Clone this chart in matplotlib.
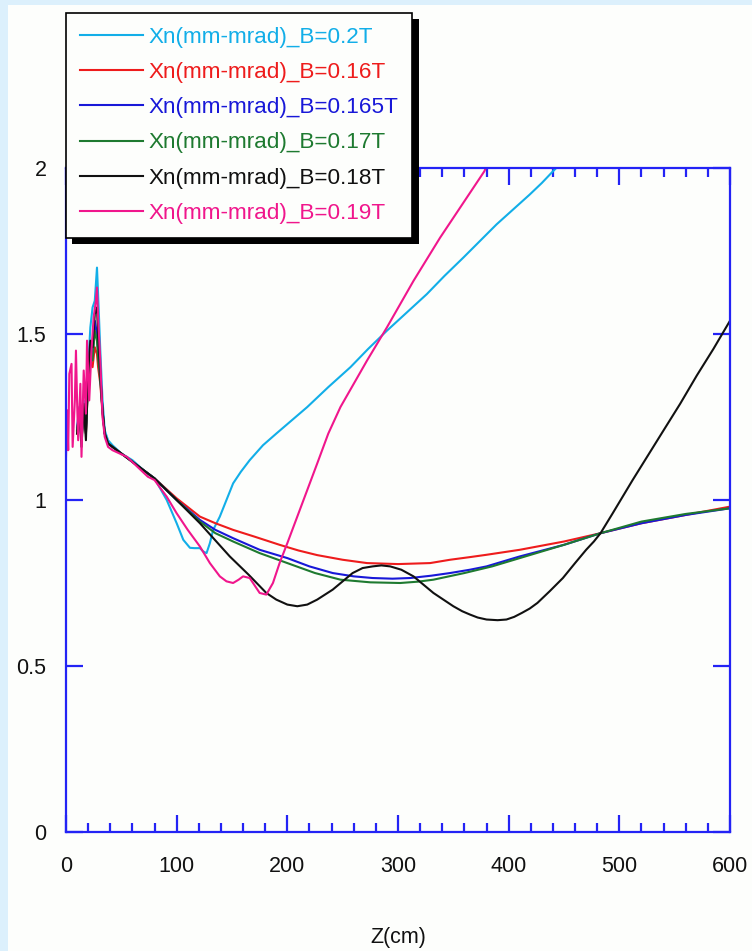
import numpy as np
import matplotlib
matplotlib.use('Agg')
import matplotlib.pyplot as plt
import matplotlib.patheffects as pe
from matplotlib.patches import Rectangle

plt.rcParams['font.family'] = ['Liberation Sans', 'DejaVu Sans']

# emittance Xn (mm-mrad) along Z (cm) for each solenoid field
z_02 = [10, 12, 14, 16, 18, 20, 22, 24, 26, 28, 29, 31, 33, 35, 38, 42, 50, 60, 70, 80,
        91, 100, 106, 112, 116, 121, 124, 127, 130, 133, 136, 139, 145, 151, 158, 166,
        178, 190, 204, 218, 237, 257, 273, 290, 308, 326, 342, 359, 374, 389, 404, 419,
        430, 440, 446]
xn_02 = [1.22, 1.28, 1.19, 1.30, 1.22, 1.40, 1.52, 1.58, 1.60, 1.70, 1.62, 1.45, 1.30,
         1.21, 1.18, 1.165, 1.14, 1.12, 1.09, 1.065, 1.00, 0.93, 0.88, 0.856, 0.855, 0.855,
         0.845, 0.84, 0.87, 0.91, 0.93, 0.95, 1.00, 1.05, 1.085, 1.12, 1.165, 1.20, 1.24,
         1.28, 1.34, 1.40, 1.455, 1.51, 1.565, 1.62, 1.675, 1.73, 1.78, 1.83, 1.875, 1.92,
         1.955, 1.99, 2.01]

z_016 = [10, 12, 14, 16, 18, 20, 22, 24, 26, 28, 29, 31, 33, 35, 38, 42, 50, 60, 70, 80,
         100, 121, 135, 151, 170, 193, 210, 227, 250, 272, 300, 329, 347, 365, 380, 410,
         450, 483, 520, 560, 600]
xn_016 = [1.20, 1.26, 1.18, 1.27, 1.20, 1.36, 1.42, 1.40, 1.46, 1.44, 1.40, 1.35, 1.26,
          1.20, 1.17, 1.16, 1.14, 1.115, 1.09, 1.065, 1.005, 0.95, 0.93, 0.91, 0.89, 0.865,
          0.848, 0.834, 0.82, 0.81, 0.807, 0.81, 0.82, 0.828, 0.835, 0.85, 0.875, 0.90,
          0.93, 0.955, 0.98]

z_0165 = [10, 12, 14, 16, 18, 20, 22, 24, 26, 28, 29, 31, 33, 35, 38, 42, 50, 60, 70, 80,
          100, 121, 135, 151, 175, 200, 220, 241, 260, 277, 295, 311, 330, 347, 365, 380,
          410, 450, 483, 520, 560, 600]
xn_0165 = [1.21, 1.27, 1.18, 1.28, 1.21, 1.38, 1.46, 1.44, 1.54, 1.50, 1.45, 1.37, 1.27,
           1.20, 1.17, 1.16, 1.14, 1.115, 1.09, 1.065, 1.00, 0.94, 0.91, 0.885, 0.85, 0.825,
           0.80, 0.78, 0.77, 0.765, 0.763, 0.765, 0.772, 0.78, 0.79, 0.80, 0.83, 0.865,
           0.90, 0.93, 0.955, 0.975]

z_017 = [10, 12, 14, 16, 18, 20, 22, 24, 26, 28, 29, 31, 33, 35, 38, 42, 50, 60, 70, 80,
         100, 121, 135, 151, 175, 200, 225, 248, 275, 302, 318, 332, 360, 385, 410, 450,
         483, 520, 560, 600]
xn_017 = [1.21, 1.26, 1.19, 1.27, 1.20, 1.37, 1.44, 1.42, 1.51, 1.48, 1.43, 1.36, 1.27,
          1.20, 1.17, 1.16, 1.14, 1.115, 1.09, 1.065, 1.00, 0.935, 0.90, 0.875, 0.84, 0.81,
          0.78, 0.76, 0.752, 0.75, 0.754, 0.76, 0.78, 0.80, 0.825, 0.865, 0.90, 0.935,
          0.958, 0.975]

z_018 = [10, 12, 14, 16, 18, 20, 22, 24, 26, 28, 29, 31, 33, 35, 38, 42, 50, 60, 70, 80,
         100, 121, 148, 165, 181, 190, 200, 209, 218, 227, 234, 241, 250, 259, 268, 277,
         285, 293, 303, 314, 323, 332, 341, 350, 358, 365, 372, 380, 390, 398, 405, 412,
         419, 426, 437, 449, 460, 470, 477, 483, 494, 512, 526, 540, 555, 570, 585, 600]
xn_018 = [1.20, 1.27, 1.16, 1.29, 1.18, 1.38, 1.48, 1.46, 1.56, 1.58, 1.50, 1.38, 1.27,
          1.20, 1.17, 1.16, 1.14, 1.115, 1.09, 1.065, 1.00, 0.93, 0.83, 0.775, 0.72, 0.70,
          0.685, 0.68, 0.685, 0.70, 0.715, 0.73, 0.755, 0.78, 0.795, 0.80, 0.803, 0.80,
          0.79, 0.77, 0.745, 0.72, 0.70, 0.68, 0.665, 0.655, 0.646, 0.64, 0.638, 0.64,
          0.648, 0.66, 0.673, 0.69, 0.725, 0.765, 0.81, 0.85, 0.875, 0.90, 0.96, 1.06,
          1.135, 1.21, 1.29, 1.375, 1.455, 1.54]

z_019 = [0, 1, 2, 3, 5, 6, 8, 9, 10, 11, 13, 14, 16, 18, 19, 21, 23, 25, 27, 28, 29, 31,
         33, 35, 38, 42, 55, 74, 80, 91, 100, 110, 121, 130, 139, 145, 151, 156, 160, 166,
         170, 175, 181, 187, 193, 200, 209, 218, 227, 237, 248, 260, 272, 281, 290, 302,
         314, 326, 338, 350, 362, 370, 378, 382]
xn_019 = [1.13, 1.27, 1.15, 1.38, 1.41, 1.16, 1.30, 1.45, 1.30, 1.18, 1.35, 1.13, 1.39,
          1.26, 1.48, 1.30, 1.45, 1.55, 1.60, 1.64, 1.55, 1.42, 1.25, 1.19, 1.16, 1.15,
          1.13, 1.07, 1.06, 1.01, 0.96, 0.91, 0.86, 0.81, 0.77, 0.755, 0.75, 0.76, 0.77,
          0.765, 0.745, 0.72, 0.715, 0.75, 0.81, 0.87, 0.95, 1.03, 1.11, 1.20, 1.28, 1.35,
          1.42, 1.47, 1.52, 1.59, 1.66, 1.725, 1.79, 1.85, 1.91, 1.95, 1.99, 2.02]

series = [
    (z_02, xn_02, 'Xn(mm-mrad)_B=0.2T', '#12aee8'),
    (z_016, xn_016, 'Xn(mm-mrad)_B=0.16T', '#ee1c1c'),
    (z_0165, xn_0165, 'Xn(mm-mrad)_B=0.165T', '#1818d8'),
    (z_017, xn_017, 'Xn(mm-mrad)_B=0.17T', '#1e7a30'),
    (z_018, xn_018, 'Xn(mm-mrad)_B=0.18T', '#111111'),
    (z_019, xn_019, 'Xn(mm-mrad)_B=0.19T', '#f0168c'),
]

yticks = [0, 0.5, 1, 1.5, 2]
ytick_labels = ['0', '0.5', '1', '1.5', '2']

axcol = '#2323f5'

fig = plt.figure(figsize=(7.52, 9.51), dpi=100, facecolor='#fdfefc')
# light blue page edge
fig.patches.append(Rectangle((0, 0), 8 / 752, 1, transform=fig.transFigure,
                             facecolor='#dcf0fc', edgecolor='none', zorder=-1))
fig.patches.append(Rectangle((0, 1 - 5 / 951), 1, 5 / 951, transform=fig.transFigure,
                             facecolor='#dcf0fc', edgecolor='none', zorder=-1))

ax = fig.add_axes([66 / 752, 1 - 832 / 951, 664 / 752, 664 / 951])
ax.set_facecolor('#fdfefc')

for z, xn, lab, c in series:
    ax.plot(z, xn, color=c, lw=1.5, label=lab)

ax.set_xlim(0, 600)
ax.set_ylim(0, 2)
ax.set_xticks(range(0, 601, 100))
ax.set_xticks(range(0, 601, 20), minor=True)
ax.set_yticks(yticks)
ax.set_yticklabels(ytick_labels)

for s in ax.spines.values():
    s.set_color(axcol)
    s.set_linewidth(1.6)
ax.tick_params(which='both', direction='in', top=True, right=True, color=axcol,
               labelsize=15.5, labelcolor='#111111')
ax.tick_params(which='major', length=12, width=1.6)
ax.tick_params(which='minor', length=6.5, width=1.6)
ax.tick_params(axis='x', pad=17)
ax.tick_params(axis='y', pad=14)

ax.set_xlabel('Z(cm)', fontsize=15.5, color='#111111')
ax.xaxis.set_label_coords(0.5, -(927 - 832) / 664)

leg = ax.legend(loc='upper left', bbox_to_anchor=(66 / 752, 1 - 13 / 951),
                bbox_transform=fig.transFigure, borderaxespad=0, fontsize=16.2,
                labelcolor='linecolor', handlelength=2.8, handletextpad=0.25,
                labelspacing=0.63, borderpad=0.62, fancybox=False, framealpha=1)
frame = leg.get_frame()
frame.set_edgecolor('black')
frame.set_linewidth(1.2)
frame.set_facecolor('#fdfefc')
frame.set_path_effects([pe.SimplePatchShadow(offset=(4.5, -4.5), shadow_rgbFace='black',
                                             alpha=1), pe.Normal()])
for ln in leg.get_lines():
    ln.set_linewidth(1.5)

fig.savefig('out.png', dpi=100, facecolor=fig.get_facecolor())
